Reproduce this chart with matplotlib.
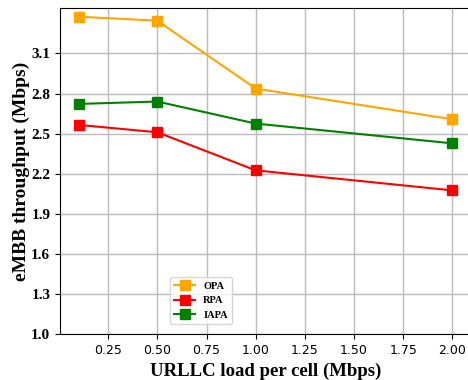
import matplotlib
matplotlib.use("Agg")
import matplotlib.pyplot as plt

# --- DATA ---
load = [0.1, 0.5, 1.0, 2.0]
opa = [3.375, 3.345, 2.837, 2.607]
rpa = [2.565, 2.51, 2.225, 2.075]
iapa = [2.722, 2.74, 2.575, 2.427]
yticks = [1.0, 1.3, 1.6, 1.9, 2.2, 2.5, 2.8, 3.1]

serif_bold = dict(family="Liberation Serif", weight="bold")

fig = plt.figure(figsize=(4.68, 3.8), dpi=100)
ax = fig.add_axes([60 / 468, 46 / 380, 411 / 468, 326 / 380])

ax.plot(load, opa, color="orange", marker="s", markersize=7.5, label="OPA")
ax.plot(load, rpa, color="red", marker="s", markersize=7.5, label="RPA")
ax.plot(load, iapa, color="green", marker="s", markersize=7.5, label="IAPA")

ax.set_xlim(0.005, 2.095)
ax.set_ylim(1.0, 3.44)
ax.set_xticks([0.25, 0.5, 0.75, 1.0, 1.25, 1.5, 1.75, 2.0])
ax.set_yticks(yticks)
ax.set_yticklabels([f"{v:.1f}" for v in yticks], fontsize=11, **serif_bold)
ax.tick_params(axis="x", labelsize=9)
ax.grid(True, color="#bbbbbb", linewidth=1)

ax.set_xlabel("URLLC load per cell (Mbps)", fontsize=13.5, labelpad=4, **serif_bold)
ax.set_ylabel("eMBB throughput (Mbps)", fontsize=14, labelpad=1, **serif_bold)

ax.legend(loc="upper left", bbox_to_anchor=(0.255, 0.19),
          prop=dict(family="Liberation Serif", weight="bold", size=7.5))

fig.savefig("out.png", dpi=100)
